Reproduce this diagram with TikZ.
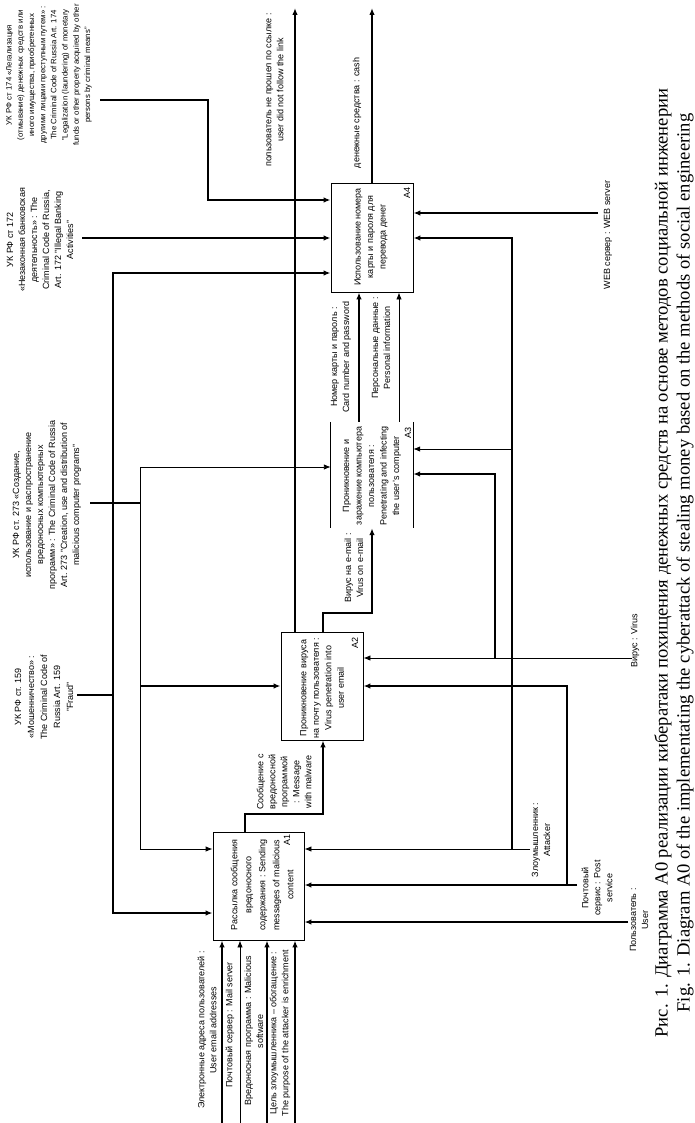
\documentclass[tikz,border=0pt]{standalone}
\usepackage{fontspec}
\setmainfont{Liberation Sans}
\newfontfamily\capfont{Liberation Serif}
\usetikzlibrary{arrows.meta}
\newcommand\dfont{\fontsize{9}{12}\selectfont}
\begin{document}
\begin{tikzpicture}[x=1pt,y=-1pt,
  box/.style={draw, line width=0.9pt, inner sep=0pt},
  boxtxt/.style={rotate=90, align=center, inner sep=0pt, font=\fontsize{9}{12.5}\selectfont},
  numtxt/.style={rotate=90, inner sep=0pt, font=\fontsize{9}{12}\selectfont},
  lab/.style={rotate=90, align=center, inner sep=0pt, font=\dfont},
  thk/.style={line width=2.2pt},
  med/.style={line width=1.4pt},
  thn/.style={line width=0.9pt},
  arr/.style={-{Latex[length=7pt,width=5.5pt]}},
  arrb/.style={{Latex[length=7pt,width=5.5pt]}-{Latex[length=7pt,width=5.5pt]}},
  captxt/.style={rotate=90, align=center, inner sep=0pt, font=\capfont\fontsize{18.6}{22}\selectfont}
]
\useasboundingbox (0,0) rectangle (695,1123);
\fill[white] (0,0) rectangle (695,1123);

% ---------- boxes ----------
\node[box, minimum width=91pt, minimum height=108pt] (A1) at (258.5,886) {};
\node[box, minimum width=82pt, minimum height=108pt] (A2) at (322,686) {};
\node[inner sep=0pt, minimum width=82pt, minimum height=106pt] (A3) at (372,475) {};
\draw[line width=0.9pt] (A3.north west) -- (A3.south west);
\draw[line width=0.9pt] (A3.north east) -- (A3.south east);
\node[box, minimum width=82pt, minimum height=109pt] (A4) at (372,237.5) {};

\node[boxtxt, font=\fontsize{9}{14}\selectfont] (A1t) at (262,885) {Рассылка сообщения\\вредоносного\\содержания : Sending\\messages of malicious\\content};
\node[boxtxt] (A2t) at (322,688) {Проникновение вируса\\на почту пользователя :\\Virus penetration into\\user email};
\node[boxtxt] (A3t) at (372,476) {Проникновение и\\заражение компьютера\\пользователя :\\Penetrating and infecting\\the user's computer};
\node[boxtxt] (A4t) at (371,237) {Использование номера\\карты и пароля для\\перевода денег};

\node[numtxt] (A1n) at (287,840) {A1};
\node[numtxt] (A2n) at (355,643) {A2};
\node[numtxt] (A3n) at (408,433) {A3};
\node[numtxt] (A4n) at (407,193) {A4};

% ---------- controls ----------
\coordinate (s174) at (100,100);
\coordinate (s172) at (82,238);
\coordinate (s273) at (90,503);
\coordinate (s159) at (77,695);
\draw[med,arr] (s174) -- (208,100) -- (208,200) -- (A4.west |- 0,200);
\draw[thk,arr] (s172) -- (A4.west |- 0,238);
\draw[thk,arrb] (A4.west |- 0,273) -- (113,273) -- (113,913) -- (A1.west |- 0,913);
\draw[thk] (s273) -- (140,503);
\draw[thn,arrb] (A3.west |- 0,467) -- (140,467) -- (140,849) -- (A1.west |- 0,849);
\draw[med,arr] (140,686) -- (A2.west |- 0,686);
\draw[thk] (s159) -- (113,695);

% ---------- outputs ----------
\coordinate (o1) at (295,8);
\coordinate (o2) at (372,8);
\draw[thk,arr] (A2.north -| o1) -- (o1);
\draw[thk,arr] (A4.north -| o2) -- (o2);
\draw[thk,arr] (A1.north -| 245,0) -- (245,814) -- (323,814) -- (A2.south -| 323,0);
\draw[thk,arr] (A2.north -| 323,0) -- (323,613) -- (372,613) -- (A3.south -| 372,0);
\draw[thk,arr] (A3.north -| 359,0) -- (A4.south -| 359,0);
\draw[thn,arr] (A3.north -| 399,0) -- (A4.south -| 399,0);

% ---------- mechanisms ----------
\coordinate (mweb) at (598,213);
\coordinate (matt) at (530,849);
\coordinate (mvir) at (632,658);
\coordinate (mpost) at (577,885);
\coordinate (muser) at (628,922);
\draw[thk,arr] (mweb) -- (A4.east |- mweb);
\draw[thn,arr] (matt) -- (A1.east |- matt);
\draw[thk,arr] (512,849) -- (512,238) -- (A4.east |- 0,238);
\draw[thn,arr] (512,449) -- (A3.east |- 0,449);
\draw[thn,arr] (mvir) -- (A2.east |- mvir);
\draw[thk,arr] (495,658) -- (495,474) -- (A3.east |- 0,474);
\draw[thk,arr] (mpost) -- (A1.east |- mpost);
\draw[thk,arr] (567,885) -- (567,686) -- (A2.east |- 0,686);
\draw[thk,arr] (muser) -- (A1.east |- muser);

% ---------- inputs ----------
\coordinate (i1) at (222,1123);
\coordinate (i2) at (240,1123);
\coordinate (i3) at (267,1123);
\coordinate (i4) at (295,1123);
\draw[thk,arr] (i1) -- (A1.south -| i1);
\draw[thn,arr] (i2) -- (A1.south -| i2);
\draw[med,arr] (i3) -- (A1.south -| i3);
\draw[thk,arr] (i4) -- (A1.south -| i4);

% ---------- labels ----------
\node[lab, font=\fontsize{7.8}{11.2}\selectfont] (L174) at (49,75) {УК РФ ст 174 «Легализация\\(отмывание) денежных средств или\\иного имущества, приобретенных\\другими лицами преступным путем» :\\The Criminal Code of Russia Art. 174\\"Legalization (laundering) of monetary\\funds or other property acquired by other\\persons by criminal means"};
\node[lab] (L172) at (40,240) {УК РФ ст 172\\«Незаконная банковская\\деятельность» : The\\Criminal Code of Russia,\\Art. 172 "Illegal Banking\\Activities"};
\node[lab] (L273) at (47,505) {УК РФ ст. 273 «Создание,\\использование и распространение\\вредоносных компьютерных\\программ» : The Criminal Code of Russia\\Art. 273 "Creation, use and distribution of\\malicious computer programs"};
\node[lab, font=\fontsize{9}{13}\selectfont] (L159) at (44,697) {УК РФ ст. 159\\«Мошенничество» :\\The Criminal Code of\\Russia Art. 159\\"Fraud"};

\node[lab] (Lo1) at (275,90) {пользователь не прошел по ссылке :\\user did not follow the link};
\node[lab] (Lcash) at (357,113) {денежные средства : cash};
\node[lab] (Lmsg) at (284,782) {Сообщение с\\вредоносной\\программой\\: Message\\with malware};
\node[lab] (Lvem) at (354,568) {Вирус на e-mail :\\Virus on e-mail};
\node[lab] (Lcard) at (341,357) {Номер карты и пароль :\\Card number and password};
\node[lab] (Lpers) at (381,348) {Персональные данные :\\Personal information};

\node[lab] (Lweb) at (608,235) {WEB сервер : WEB server};
\node[lab] (Lvir) at (635,641) {Вирус : Virus};
\node[lab] (Latt) at (541,840) {Злоумышленник :\\Attacker};
\node[lab] (Lpost) at (597,888) {Почтовый\\сервис : Post\\service};
\node[lab] (Luser) at (639,920) {Пользователь :\\User};

\node[lab] (Lin1) at (207,1030) {Электронные адреса пользователей :\\User email addresses};
\node[lab] (Lin2) at (230,1025) {Почтовый сервер : Mail server};
\node[lab] (Lin3) at (254,1031) {Вредоносная программа : Malicious\\software};
\node[lab] (Lin4) at (280,1033) {Цель злоумышленника – обогащение :\\The purpose of the attacker is enrichment};

% ---------- caption ----------
\node[captxt] (cap) at (674,563) {Рис. 1. Диаграмма А0 реализации кибератаки похищения денежных средств на основе методов социальной инженерии\\Fig. 1. Diagram A0 of the implementating the cyberattack of stealing money based on the methods of social engineering};
\end{tikzpicture}
\end{document}
